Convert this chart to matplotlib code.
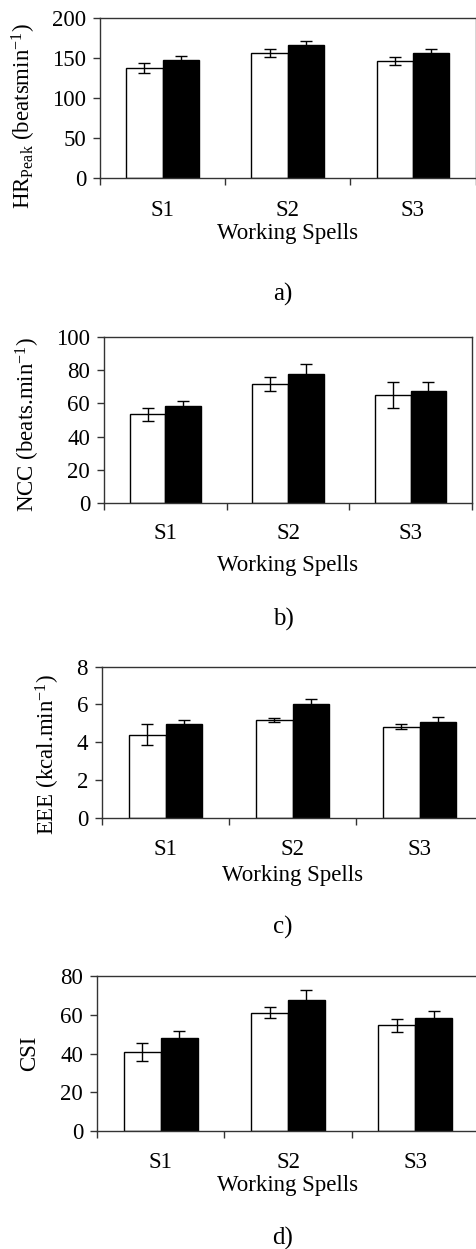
import numpy as np
import matplotlib
matplotlib.use('Agg')
import matplotlib.pyplot as plt

plt.rcParams['font.family'] = ['Liberation Serif', 'DejaVu Serif']
plt.rcParams['mathtext.fontset'] = 'custom'
plt.rcParams['mathtext.rm'] = 'Liberation Serif'
plt.rcParams['mathtext.it'] = 'Liberation Serif:italic'

spells = ['S1', 'S2', 'S3']

# HR peak (beats/min)
hr_white = [138, 157, 146]
hr_white_err = [6.5, 5, 5]
hr_black = [148, 167, 157]
hr_black_err = [5, 5, 4]

# NCC (beats/min)
ncc_white = [53.5, 71.8, 65]
ncc_white_err = [4, 4.3, 8]
ncc_black = [58.6, 77.6, 67.6]
ncc_black_err = [3, 6, 5.4]

# EEE (kcal/min)
eee_white = [4.4, 5.19, 4.82]
eee_white_err = [0.54, 0.1, 0.12]
eee_black = [4.95, 6.02, 5.05]
eee_black_err = [0.24, 0.25, 0.3]

# CSI
csi_white = [41, 61.2, 54.6]
csi_white_err = [4.7, 3, 3.5]
csi_black = [48.3, 67.9, 58.3]
csi_black_err = [3.4, 5.2, 3.6]

W, H = 476, 1249
fig = plt.figure(figsize=(W / 100, H / 100), dpi=100)


def px_axes(left, right, top, bottom):
    return fig.add_axes([left / W, 1 - bottom / H, (right - left) / W, (bottom - top) / H])


panels = [
    dict(box=(100, 475.5, 18.3, 178.3), white=hr_white, werr=hr_white_err,
         black=hr_black, berr=hr_black_err, ymax=200, step=50,
         ylabel=r'HR$_{\mathrm{Peak}}$ (beatsmin$^{\mathrm{-1}}$)',
         ylab=(-0.165, 0.389), xlab=-0.279, pad=15.5, letter='a)', lpos=(283, 294),
         right=True),
    dict(box=(104, 472, 336.7, 503.3), white=ncc_white, werr=ncc_white_err,
         black=ncc_black, berr=ncc_black_err, ymax=100, step=20,
         ylabel=r'NCC (beats.min$^{\mathrm{-1}}$)',
         ylab=(-0.168, 0.476), xlab=-0.31, pad=14.5, letter='b)', lpos=(283, 619),
         right=True),
    dict(box=(102, 483, 666.7, 817.7), white=eee_white, werr=eee_white_err,
         black=eee_black, berr=eee_black_err, ymax=8, step=2,
         ylabel=r'EEE (kcal.min$^{\mathrm{-1}}$)',
         ylab=(-0.105, 0.422), xlab=-0.313, pad=15.5, letter='c)', lpos=(283, 927),
         right=False),
    dict(box=(97, 479, 976.3, 1131), white=csi_white, werr=csi_white_err,
         black=csi_black, berr=csi_black_err, ymax=80, step=20,
         ylabel='CSI',
         ylab=(-0.149, 0.5), xlab=-0.284, pad=15, letter='d)', lpos=(283, 1238),
         right=False),
]

x = np.arange(len(spells)) + 0.5
bw = 0.29
spine_col = '#333333'

for p in panels:
    ax = px_axes(*p['box'])
    ax.bar(x - bw / 2, p['white'], bw, color='white', edgecolor='black', linewidth=1.0, zorder=2)
    ax.bar(x + bw / 2, p['black'], bw, color='black', edgecolor='black', linewidth=1.0, zorder=2)
    ax.errorbar(x - bw / 2, p['white'], yerr=p['werr'], fmt='none', ecolor='black',
                elinewidth=1.0, capsize=4.5, capthick=1.0, zorder=3)
    ax.errorbar(x + bw / 2, p['black'], yerr=p['berr'], fmt='none', ecolor='black',
                elinewidth=1.0, capsize=4.5, capthick=1.0, zorder=3)

    ax.set_xlim(0, 3)
    ax.set_ylim(0, p['ymax'])
    ax.set_yticks(np.arange(0, p['ymax'] + p['step'] / 2, p['step']))
    ax.set_xticks(x)
    ax.set_xticklabels(spells)
    ax.set_xticks([0, 1, 2, 3], minor=True)
    ax.tick_params(axis='x', which='major', length=0, pad=p['pad'], labelsize=16.5)
    ax.tick_params(axis='x', which='minor', length=5, width=1.0, direction='out', color=spine_col)
    ax.tick_params(axis='y', length=5, width=1.0, direction='out', pad=5, labelsize=16.5,
                   color=spine_col)

    for side in ['left', 'bottom', 'top', 'right']:
        ax.spines[side].set_color(spine_col)
        ax.spines[side].set_linewidth(1.0)
    ax.spines['right'].set_visible(p['right'])

    ax.set_ylabel(p['ylabel'], fontsize=16.5)
    ax.yaxis.set_label_coords(*p['ylab'])
    ax.set_xlabel('Working Spells', fontsize=16.5)
    ax.xaxis.set_label_coords(0.5, p['xlab'])

    fig.text(p['lpos'][0] / W, 1 - p['lpos'][1] / H, p['letter'], fontsize=18,
             ha='center', va='center')

fig.savefig('out.png', dpi=100)
